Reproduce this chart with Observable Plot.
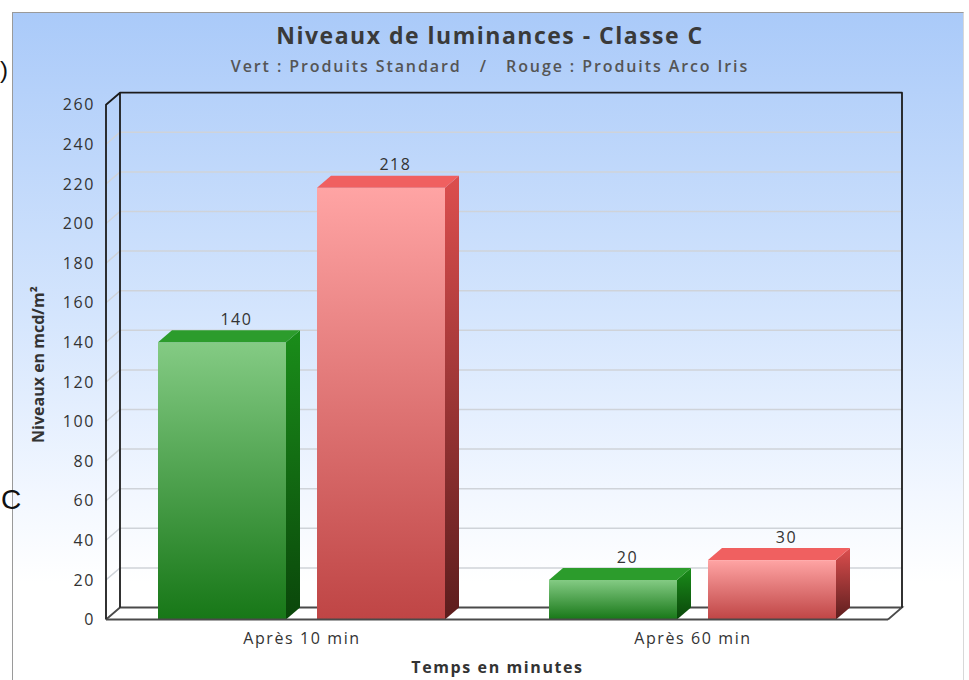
<!DOCTYPE html>
<html>
<head>
<meta charset="utf-8">
<script src="https://cdn.jsdelivr.net/npm/d3@7"></script>
<script src="https://cdn.jsdelivr.net/npm/@observablehq/plot@0.6"></script>
<style>
  body { margin: 0; background: #ffffff; font-family: "Open Sans", sans-serif; }
  #frame {
    position: absolute; left: 12px; top: 12px; width: 950px; height: 680px;
    border-top: 1px solid #9a9a9a; border-left: 1px solid #9a9a9a; border-right: 1px solid #d8d8d8;
    background: linear-gradient(to bottom, #aacaf9 0px, #d4e5fd 300px, #f2f7ff 480px, #ffffff 570px, #ffffff 100%);
  }
  #header { position: relative; height: 70px; }
  #title { position: absolute; left: 4px; right: 0; top: 6px; text-align: center;
           font-size: 23px; font-weight: 700; color: #3a3a3a; line-height: 32px; letter-spacing: 1.5px; }
  #subtitle { position: absolute; left: 4px; right: 0; top: 42px; text-align: center; white-space: pre;
              font-size: 16px; font-weight: 600; color: #555555; line-height: 22px; letter-spacing: 1.9px; }
  .stray { position: absolute; font-family: "Liberation Sans", Arial, sans-serif; color: #111; z-index: 2; }
</style>
</head>
<body>
<div id="frame">
  <div id="header">
    <div id="title"></div>
    <div id="subtitle"></div>
  </div>
  <div id="chart"></div>
</div>
<span class="stray" style="left:0px; top:56px; font-size:24px;">)</span>
<span class="stray" style="left:1px; top:484px; font-size:28px;">C</span>
<script>
// ---------- data ----------
const titleText = "Niveaux de luminances - Classe C";
const subtitleText = "Vert : Produits Standard   /   Rouge : Produits Arco Iris";
const categories = ["Après 10 min", "Après 60 min"];
const seriesKeys = ["Standard", "Arco Iris"];
const standardValues = [140, 20];
const arcoIrisValues = [218, 30];
const yTicks = [0, 20, 40, 60, 80, 100, 120, 140, 160, 180, 200, 220, 240, 260];
const yLabel = "Niveaux en mcd/m²";
const xLabel = "Temps en minutes";

document.getElementById("title").textContent = titleText;
document.getElementById("subtitle").textContent = subtitleText;

const rows = categories.flatMap((c, i) => [
  {cat: c, serie: seriesKeys[0], value: standardValues[i]},
  {cat: c, serie: seriesKeys[1], value: arcoIrisValues[i]}
]);

// ---------- 3D look ----------
const DX = 14, DY = 12;
const palette = {
  "Standard": {front: ["#84cb84", "#177717"], top: "#2c9c2c", side: ["#1a8d1a", "#0a460a"]},
  "Arco Iris": {front: ["#ffa4a4", "#bf4545"], top: "#f06060", side: ["#dc4e4e", "#5c1d1d"]}
};
const gid = {"Standard": "g", "Arco Iris": "r"};

function decor(index, scales, values, dims) {
  const L = dims.marginLeft, R = dims.width - dims.marginRight;
  const y = scales.y;
  const y0 = y(yTicks[0]), yT = y(yTicks[yTicks.length - 1]);
  const g = d3.create("svg:g");
  const defs = g.append("defs");
  for (const k of seriesKeys) {
    const p = palette[k];
    const lg = defs.append("linearGradient").attr("id", gid[k] + "Front").attr("x1", 0).attr("y1", 0).attr("x2", 0).attr("y2", 1);
    lg.append("stop").attr("offset", 0).attr("stop-color", p.front[0]);
    lg.append("stop").attr("offset", 1).attr("stop-color", p.front[1]);
    const ls = defs.append("linearGradient").attr("id", gid[k] + "Side").attr("x1", 0).attr("y1", 0).attr("x2", 0).attr("y2", 1);
    ls.append("stop").attr("offset", 0).attr("stop-color", p.side[0]);
    ls.append("stop").attr("offset", 1).attr("stop-color", p.side[1]);
  }
  // floor
  g.append("path").attr("fill", "#ffffff")
    .attr("d", `M${L},${y0}L${L + DX},${y0 - DY}L${R + DX},${y0 - DY}L${R},${y0}Z`);
  // grid lines on back & left walls
  for (const t of yTicks.slice(1, -1)) {
    const yy = y(t);
    g.append("path").attr("fill", "none").attr("stroke", "#cfd3d9").attr("stroke-width", 1.5)
      .attr("d", `M${L},${yy}L${L + DX},${yy - DY}L${R + DX},${yy - DY}`);
  }
  // floor lines
  g.append("path").attr("fill", "none").attr("stroke", "#4a4a4a").attr("stroke-width", 1.8)
    .attr("d", `M${L},${y0}L${L + DX},${y0 - DY}L${R + DX},${y0 - DY}L${R},${y0}`);
  // walls
  g.append("path").attr("fill", "none").attr("stroke", "#1c1c1c").attr("stroke-width", 1.8)
    .attr("stroke-linejoin", "round")
    .attr("d", `M${L},${y0}L${L},${yT}L${L + DX},${yT - DY}L${R + DX},${yT - DY}L${R + DX},${y0 - DY}`
      + `M${L + DX},${yT - DY}L${L + DX},${y0 - DY}`);
  return g.node();
}

function floorFront(index, scales, values, dims) {
  const L = dims.marginLeft, R = dims.width - dims.marginRight;
  const y0 = scales.y(yTicks[0]);
  const g = d3.create("svg:g");
  g.append("path").attr("fill", "none").attr("stroke", "#4a4a4a").attr("stroke-width", 1.8)
    .attr("d", `M${L},${y0}L${R},${y0}`);
  return g.node();
}

function bars3d(index, scales, values, dims, context, next) {
  const node = next(index, scales, values, dims, context);
  const rects = Array.from(node.querySelectorAll("rect"));
  rects.forEach((r, k) => {
    const d = rows[index[k]];
    const id = gid[d.serie];
    const x1 = +r.getAttribute("x"), w = +r.getAttribute("width");
    const yt = +r.getAttribute("y"), h = +r.getAttribute("height");
    const x2 = x1 + w, yb = yt + h;
    r.setAttribute("fill", `url(#${id}Front)`);
    const parent = d3.select(r.parentNode);
    parent.append("path").attr("fill", `url(#${id}Side)`)
      .attr("d", `M${x2},${yt}L${x2 + DX},${yt - DY}L${x2 + DX},${yb - DY}L${x2},${yb}Z`);
    parent.append("path").attr("fill", palette[d.serie].top)
      .attr("d", `M${x1},${yt}L${x1 + DX},${yt - DY}L${x2 + DX},${yt - DY}L${x2},${yt}Z`);
  });
  return node;
}

function tightSpacing(index, scales, values, dims, context, next) {
  const node = next(index, scales, values, dims, context);
  node.style.letterSpacing = "0px";
  return node;
}

const chart = Plot.plot({
  width: 950,
  height: 597,
  marginLeft: 93,
  marginRight: 75,
  marginTop: 21.7,
  marginBottom: 60.5,
  style: {fontFamily: "Open Sans", fontSize: "16px", color: "#333333", background: "transparent", overflow: "visible", letterSpacing: "1.6px"},
  fx: {domain: categories, padding: 0, axis: null, label: null},
  x: {domain: seriesKeys, paddingInner: 0.194, paddingOuter: 0.319, axis: null, label: null},
  y: {domain: [yTicks[0], yTicks[yTicks.length - 1]], ticks: yTicks, tickSize: 0, tickPadding: 11.5, label: null, axis: "left"},
  marks: [
    Plot.frame({stroke: "none", facet: "super", render: decor}),
    Plot.barY(rows, {fx: "cat", x: "serie", y: "value", fill: "#888", render: bars3d}),
    Plot.frame({stroke: "none", facet: "super", render: floorFront}),
    Plot.text(rows, {fx: "cat", x: "serie", y: "value", text: d => String(d.value), dx: 14, dy: -23, fill: "#333333", fontSize: 16}),
    Plot.text(categories, {fx: d => d, frameAnchor: "bottom", dy: 23.5, text: d => d, fill: "#333333", fontSize: 16}),
    Plot.text([xLabel], {frameAnchor: "bottom", dy: 52.5, facet: "super", text: d => d, fill: "#333333", fontSize: 16, fontWeight: 700}),
    Plot.text([yLabel], {frameAnchor: "left", textAnchor: "middle", dx: -68, dy: 2, rotate: -90, facet: "super", text: d => d, fill: "#333333", fontSize: 16, fontWeight: 700, render: tightSpacing})
  ]
});
document.getElementById("chart").appendChild(chart);
</script>
</body>
</html>
